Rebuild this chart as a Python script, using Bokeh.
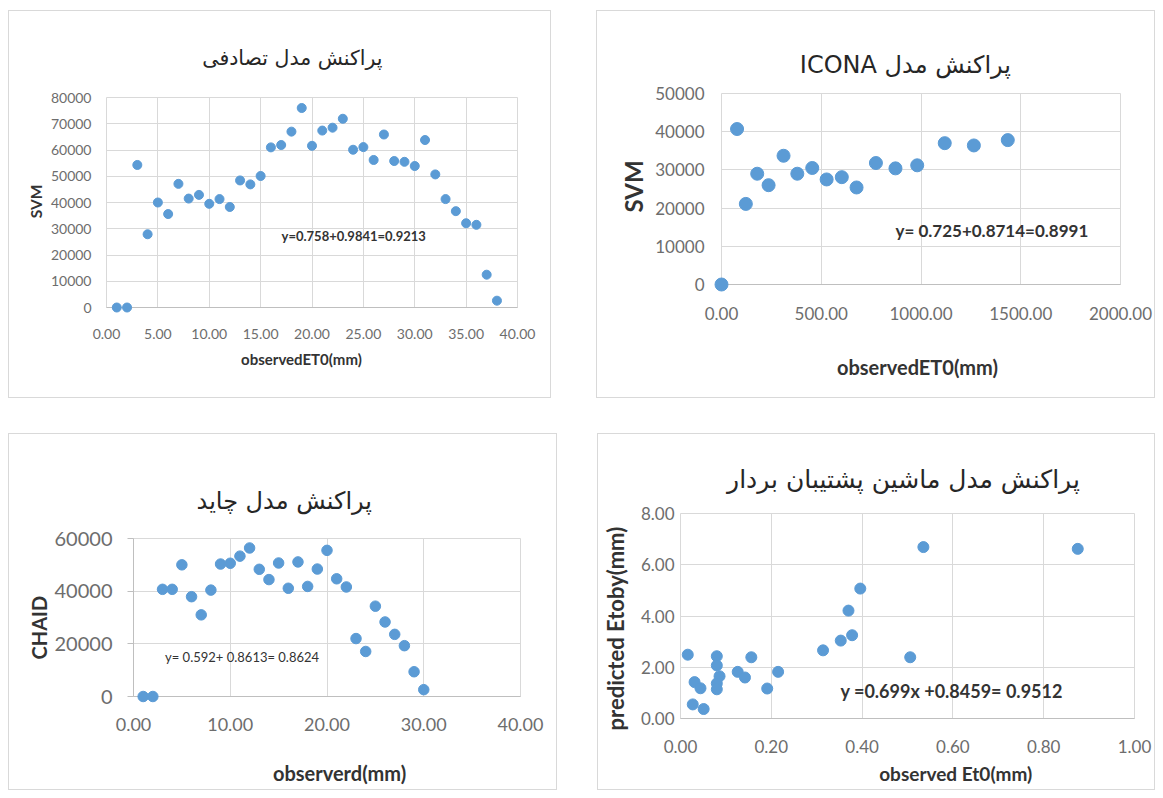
import math
from bokeh.plotting import figure
from bokeh.models import FixedTicker, NumeralTickFormatter, Range1d, Spacer
from bokeh.core.properties import value
from bokeh.layouts import row, column
from bokeh.embed import file_html
from bokeh.resources import INLINE

# ---------------- data ----------------
# panel 1: random model
rand_x = list(range(1, 39))
rand_y = [0, 0, 54300, 27900, 40000, 35600, 47100, 41500, 42900, 39500, 41300, 38300,
          48400, 46900, 50100, 61000, 61900, 67000, 76000, 61600, 67400, 68500, 71900,
          60100, 61100, 56200, 65900, 55800, 55500, 53900, 63800, 50700, 41300, 36700,
          32100, 31500, 12500, 2600]
rand_xticks = [0, 5, 10, 15, 20, 25, 30, 35, 40]
rand_yticks = [0, 10000, 20000, 30000, 40000, 50000, 60000, 70000, 80000]

# panel 2: ICONA
icona_x = [0, 78, 122, 179, 236, 311, 380, 455, 527, 603, 677, 774, 872, 981, 1119, 1265, 1435]
icona_y = [0, 40700, 21100, 29000, 26000, 33700, 29000, 30500, 27500, 28100, 25400, 31800,
           30400, 31200, 37000, 36400, 37800]
icona_xticks = [0, 500, 1000, 1500, 2000]
icona_yticks = [0, 10000, 20000, 30000, 40000, 50000]

# panel 3: CHAID
chaid_x = list(range(1, 31))
chaid_y = [0, 0, 40700, 40700, 50000, 37900, 31000, 40400, 50300, 50600, 53300, 56400,
           48300, 44400, 50700, 41100, 51100, 41800, 48400, 55500, 44700, 41600, 22000,
           17100, 34300, 28300, 23600, 19300, 9400, 2600]
chaid_xticks = [0, 10, 20, 30, 40]
chaid_yticks = [0, 20000, 40000, 60000]

# panel 4: support vector machine
svr_x = [0.016, 0.031, 0.044, 0.027, 0.051, 0.080, 0.080, 0.086, 0.080, 0.080, 0.126, 0.142,
         0.156, 0.191, 0.215, 0.314, 0.353, 0.378, 0.370, 0.396, 0.506, 0.535, 0.875]
svr_y = [2.49, 1.42, 1.18, 0.55, 0.37, 2.43, 2.07, 1.65, 1.37, 1.14, 1.82, 1.60,
         2.39, 1.17, 1.82, 2.66, 3.04, 3.25, 4.21, 5.07, 2.39, 6.69, 6.62]
svr_xticks = [0, 0.2, 0.4, 0.6, 0.8, 1.0]
svr_yticks = [0, 2, 4, 6, 8]

titles = ["پراکنش مدل تصادفی",
          "\u202bپراکنش مدل ICONA\u202c",
          "پراکنش مدل چاید",
          "پراکنش مدل ماشین پشتیبان بردار"]
xlabels = ["observedET0(mm)", "observedET0(mm)", "observerd(mm)", "observed Et0(mm)"]
ylabels = ["SVM", "SVM", "CHAID", "predicted Etoby(mm)"]
equations = ["y=0.758+0.9841=0.9213", "y= 0.725+0.8714=0.8991",
             "y= 0.592+ 0.8613= 0.8624", "y =0.699x +0.8459= 0.9512"]

BLUE = "#5B9BD5"
GRID = "#d9d9d9"
TICK = "#6d6d6d"
DARK = "#333333"
LATIN = "Lato"
ARABIC = "DejaVu Sans"


def panel(xs, ys, xticks, yticks, xfmt, yfmt, w, h, borders, xtick_size, ytick_size,
          xstand, ystand, msize, title, tpos, tsize, xlab, xlpos, xlsize,
          ylab, ylpos, ylsize, eq, eqpos, eqsize, eqstyle, yaxis_line=False):
    l, r, t, b = borders
    x0, x1 = xticks[0], xticks[-1]
    y0, y1 = yticks[0], yticks[-1]
    fw = w - 2 - l - r
    fh = h - 2 - t - b
    p = figure(width=w, height=h, output_backend="svg", toolbar_location=None,
               x_range=Range1d(x0, x1), y_range=Range1d(y0, y1),
               min_border_left=l, min_border_right=r, min_border_top=t, min_border_bottom=b,
               background_fill_color="white", border_fill_color="white")
    p.frame_align = False
    p.styles = {"border": "1px solid #d9d9d9"}
    p.outline_line_color = GRID
    for ax, ticks, fmt, stand, fs in ((p.xaxis, xticks, xfmt, xstand, xtick_size),
                                      (p.yaxis, yticks, yfmt, ystand, ytick_size)):
        ax.ticker = FixedTicker(ticks=ticks)
        ax.formatter = NumeralTickFormatter(format=fmt)
        ax.major_label_text_font = LATIN
        ax.major_label_text_font_size = f"{fs}px"
        ax.major_label_text_color = TICK
        ax.major_label_standoff = stand
        ax.minor_tick_line_color = None
        ax.major_tick_line_color = None
    p.xaxis.axis_line_color = "#bfbfbf"
    if yaxis_line:
        p.yaxis.axis_line_color = "#bfbfbf"
        p.yaxis.major_tick_line_color = "#bfbfbf"
        p.yaxis.major_tick_out = 6
        p.yaxis.major_tick_in = 0
    else:
        p.yaxis.axis_line_color = None
    p.grid.grid_line_color = GRID
    p.grid.grid_line_width = 1

    sc = p.scatter(xs, ys, size=msize, fill_color=BLUE, line_color=BLUE)
    sc.level = "overlay"

    def add_text(pos, text, font, size, style, color, angle=0.0):
        # pos is a pixel offset from the frame's bottom-left corner
        tx = x0 + pos[0] * (x1 - x0) / fw
        ty = y0 + pos[1] * (y1 - y0) / fh
        g = p.text(x=[tx], y=[ty], text=[text], angle=angle,
                   text_font=value(font), text_font_style=value(style),
                   text_font_size=value(f"{size}px"), text_color=value(color),
                   text_align="center", text_baseline="middle")
        g.level = "overlay"

    add_text(tpos, title, ARABIC, tsize, "normal", "#262626")
    add_text(xlpos, xlab, LATIN, xlsize, "bold", DARK)
    add_text(ylpos, ylab, LATIN, ylsize, "bold", DARK, angle=math.pi / 2)
    add_text(eqpos, eq, LATIN, eqsize, eqstyle, DARK)
    return p


p1 = panel(rand_x, rand_y, rand_xticks, rand_yticks, "0.00", "0", 543, 388, (97, 35, 86, 92),
           14, 14, 15, 9, 9, titles[0], (185, 247), 20.5, xlabels[0], (194, -51), 15,
           ylabels[0], (-70, 105), 15.5, equations[0], (246, 71), 13, "bold")
p2 = panel(icona_x, icona_y, icona_xticks, icona_yticks, "0.00", "0", 559, 388, (124, 36, 82, 115),
           17, 17, 16, 11, 13, titles[1], (183, 217), 24, xlabels[1], (195, -82), 20,
           ylabels[1], (-88, 97), 24, equations[1], (269, 53), 17, "bold")
p3 = panel(chaid_x, chaid_y, chaid_xticks, chaid_yticks, "0.00", "0", 549, 357, (124, 38, 104, 95),
           18, 20, 15, 15, 10.5, titles[2], (150, 193), 24, xlabels[2], (205, -76), 20,
           ylabels[2], (-94, 68), 20, equations[2], (108, 39), 13, "normal", yaxis_line=True)
p4 = panel(svr_x, svr_y, svr_xticks, svr_yticks, "0.00", "0.00", 558, 357, (82, 22, 79, 73),
           17, 17, 15, 0, 11, titles[3], (222, 237), 25, xlabels[3], (274, -54), 19,
           ylabels[3], (-65, 89), 22, equations[3], (270, 27), 18, "bold")

layout = column(Spacer(height=10),
                row(Spacer(width=8), p1, Spacer(width=45), p2),
                Spacer(height=35),
                row(Spacer(width=8), p3, Spacer(width=40), p4))

open("out.html", "w").write(file_html(layout, INLINE))
